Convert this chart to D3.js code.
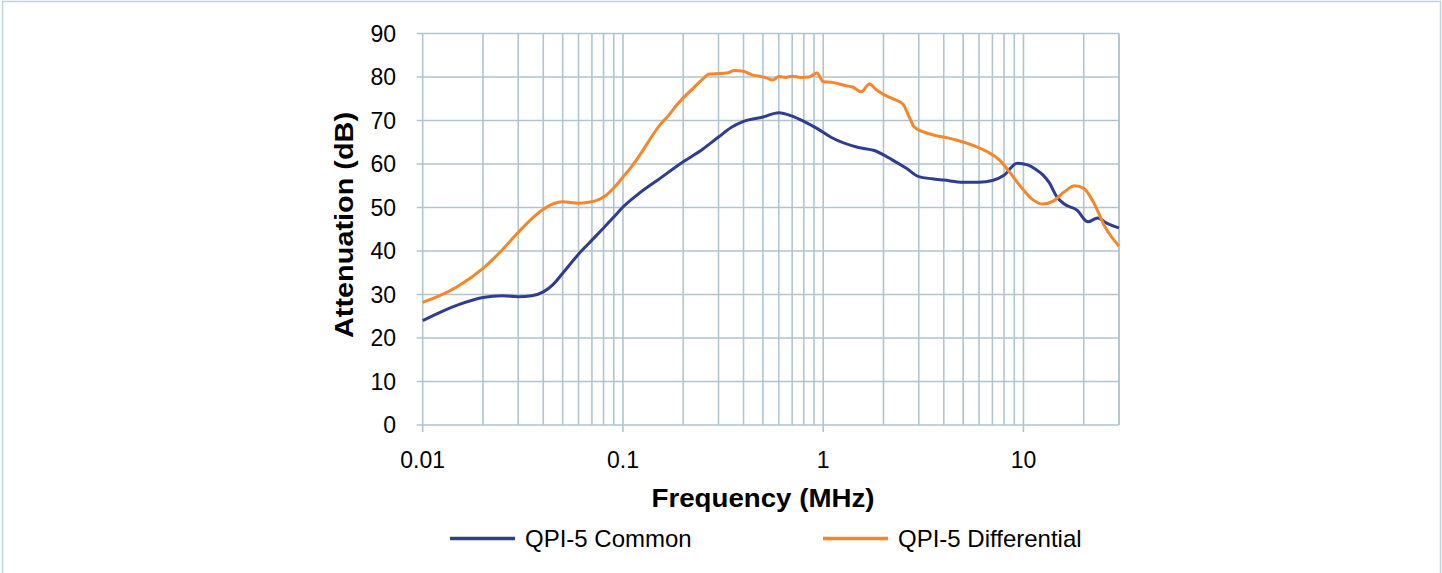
<!DOCTYPE html>
<html lang="en">
<head>
  <meta charset="UTF-8">
  <title>QPI-5 Attenuation</title>
  <style>
    body {
      margin: 0;
      background-color: #fff;
      font-family: Arial, "Liberation Sans", sans-serif;
    }
    .grid line {
      stroke: #b1c5ce;
      stroke-width: 1.6;
    }
    .tick-label {
      font-size: 23px;
      fill: #000;
    }
    .title {
      font-size: 26px;
      font-weight: bold;
      fill: #000;
    }
    .legend-label {
      font-size: 24px;
      fill: #000;
    }
  </style>
</head>
<body>
  <div id="chart"></div>

  <script src="https://d3js.org/d3.v7.min.js"></script>
  <script>
    const width = 1442;
    const height = 573;

    // frequency (MHz) and attenuation (dB)
    const commonFreq = [0.01, 0.0126, 0.015, 0.02, 0.025, 0.03, 0.035, 0.04, 0.045, 0.05, 0.062, 0.07, 0.08, 0.09, 0.1, 0.12, 0.15, 0.2, 0.25, 0.3, 0.35, 0.4, 0.5, 0.6, 0.7, 0.8, 0.93, 1.1, 1.5, 1.8, 2.2, 2.6, 3.0, 3.5, 4.0, 5.0, 6.0, 7.0, 8.0, 9.3, 10.5, 11.5, 12.5, 13.5, 14.6, 16, 18.5, 21, 23.5, 26, 30];
    const commonDb = [24.0, 26.2, 27.6, 29.3, 29.7, 29.5, 29.7, 30.6, 32.4, 34.9, 40.0, 42.5, 45.3, 47.8, 50.1, 53.2, 56.4, 60.5, 63.4, 66.2, 68.5, 69.8, 70.8, 71.8, 71.0, 69.8, 68.2, 66.1, 63.8, 63.1, 61.0, 59.0, 57.1, 56.6, 56.3, 55.8, 55.8, 56.2, 57.4, 60.2, 59.8, 58.8, 57.5, 55.6, 52.6, 50.8, 49.4, 46.7, 47.6, 46.4, 45.3];

    const diffFreq = [0.01, 0.012, 0.015, 0.02, 0.025, 0.03, 0.035, 0.04, 0.045, 0.05, 0.06, 0.07, 0.08, 0.09, 0.1, 0.11, 0.126, 0.14, 0.153, 0.17, 0.186, 0.2, 0.224, 0.25, 0.27, 0.3, 0.33, 0.36, 0.4, 0.44, 0.48, 0.52, 0.56, 0.6, 0.65, 0.7, 0.77, 0.85, 0.93, 1.0, 1.1, 1.2, 1.3, 1.4, 1.55, 1.7, 1.85, 2.0, 2.25, 2.5, 2.7, 2.85, 3.2, 3.6, 4.2, 4.8, 5.6, 6.6, 7.6, 8.6, 10, 11.2, 12.5, 14, 16, 18, 20, 22.5, 25.5, 30];
    const diffDb = [28.2, 29.6, 31.9, 36.0, 40.3, 44.3, 47.4, 49.6, 50.9, 51.3, 51.0, 51.3, 52.4, 54.5, 57.0, 59.3, 63.2, 66.5, 69.0, 71.3, 73.6, 75.2, 77.4, 79.5, 80.7, 80.8, 80.9, 81.5, 81.3, 80.5, 80.2, 79.8, 79.3, 80.1, 79.9, 80.2, 79.9, 80.0, 80.9, 78.9, 78.8, 78.4, 78.0, 77.7, 76.6, 78.4, 77.0, 76.0, 74.9, 73.8, 70.6, 68.5, 67.3, 66.6, 66.0, 65.3, 64.3, 62.8, 60.9, 57.9, 54.0, 51.7, 50.8, 51.4, 53.6, 55.0, 54.4, 51.0, 45.6, 41.1];

    const xTickValues = [0.01, 0.1, 1, 10];
    const xTickLabels = ["0.01", "0.1", "1", "10"];
    const minorFreqs = [];
    [0.01, 0.1, 1, 10].forEach(d => {
      for (let k = 1; k <= 9; k++) {
        const f = +(d * k).toPrecision(3);
        if (f <= 30) minorFreqs.push(f);
      }
    });
    minorFreqs.push(30);
    const yTickValues = [0, 10, 20, 30, 40, 50, 60, 70, 80, 90];

    const seriesNames = ["QPI-5 Common", "QPI-5 Differential"];
    const seriesColors = ["#2e3d91", "#f7862a"];

    const plot = { left: 422.7, right: 1119, top: 33.5, bottom: 425 };

    const x = d3.scaleLog().domain([0.01, 30]).range([plot.left, plot.right]);
    const y = d3.scaleLinear().domain([0, 90]).range([plot.bottom, plot.top]);

    const svg = d3.select("#chart")
      .append("svg")
      .attr("width", width)
      .attr("height", height);

    // outer frame
    svg.append("rect")
      .attr("x", 2.5)
      .attr("y", 1.5)
      .attr("width", 1438)
      .attr("height", 600)
      .attr("fill", "none")
      .attr("stroke", "#c3d3da")
      .attr("stroke-width", 1.5);

    const grid = svg.append("g").attr("class", "grid");

    grid.selectAll("line.h")
      .data(yTickValues)
      .enter()
      .append("line")
      .attr("class", "h")
      .attr("x1", plot.left - 6)
      .attr("x2", plot.right)
      .attr("y1", d => y(d))
      .attr("y2", d => y(d));

    grid.selectAll("line.v")
      .data(minorFreqs)
      .enter()
      .append("line")
      .attr("class", "v")
      .attr("x1", d => x(d))
      .attr("x2", d => x(d))
      .attr("y1", plot.top)
      .attr("y2", d => xTickValues.includes(d) ? plot.bottom + 7 : plot.bottom);

    // tick labels
    svg.append("g")
      .selectAll("text")
      .data(yTickValues)
      .enter()
      .append("text")
      .attr("class", "tick-label")
      .attr("x", 396)
      .attr("y", d => y(d))
      .attr("dy", "0.35em")
      .attr("text-anchor", "end")
      .text(d => d);

    svg.append("g")
      .selectAll("text")
      .data(xTickValues)
      .enter()
      .append("text")
      .attr("class", "tick-label")
      .attr("x", d => x(d))
      .attr("y", 468)
      .attr("text-anchor", "middle")
      .text((d, i) => xTickLabels[i]);

    // axis titles
    svg.append("text")
      .attr("class", "title")
      .attr("x", 763)
      .attr("y", 507)
      .attr("text-anchor", "middle")
      .attr("textLength", 223)
      .attr("lengthAdjust", "spacingAndGlyphs")
      .text("Frequency (MHz)");

    svg.append("text")
      .attr("class", "title")
      .attr("transform", "translate(353,225) rotate(-90)")
      .attr("text-anchor", "middle")
      .attr("textLength", 226)
      .attr("lengthAdjust", "spacingAndGlyphs")
      .text("Attenuation (dB)");

    // lines
    const line = d3.line()
      .x(d => x(d[0]))
      .y(d => y(d[1]))
      .curve(d3.curveMonotoneX);

    const series = [
      d3.zip(commonFreq, commonDb),
      d3.zip(diffFreq, diffDb)
    ];

    svg.append("g")
      .selectAll("path")
      .data(series)
      .enter()
      .append("path")
      .attr("d", line)
      .attr("fill", "none")
      .attr("stroke", (d, i) => seriesColors[i])
      .attr("stroke-width", 3)
      .attr("stroke-linejoin", "round");

    // legend
    const legendX = [450, 823];
    const legend = svg.append("g")
      .selectAll("g")
      .data(seriesNames)
      .enter()
      .append("g")
      .attr("transform", (d, i) => `translate(${legendX[i]},538.5)`);

    legend.append("line")
      .attr("x1", 0)
      .attr("x2", 65)
      .attr("stroke", (d, i) => seriesColors[i])
      .attr("stroke-width", 3.5);

    legend.append("text")
      .attr("class", "legend-label")
      .attr("x", 75)
      .attr("dy", "0.36em")
      .text(d => d);
  </script>
</body>
</html>
